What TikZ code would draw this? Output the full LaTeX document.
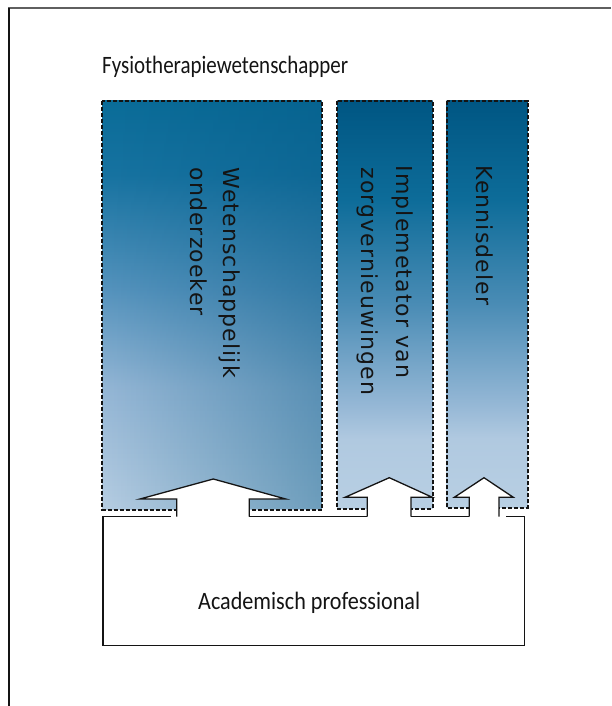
\documentclass[tikz,border=0pt]{standalone}
\usepackage{fontspec}
\usepackage{graphicx}
\usetikzlibrary{fadings}
\newfontfamily\vfont{DejaVu Sans}[LetterSpace=5]
\newfontfamily\tfont{Carlito}
\definecolor{cL}{HTML}{B8CFE3}
\definecolor{cL2}{HTML}{B0C9E0}
\definecolor{cM2}{HTML}{96B8D6}
\definecolor{cM}{HTML}{4A8CB5}
\definecolor{cD2}{HTML}{0D6C99}
\definecolor{cD}{HTML}{005683}
\definecolor{kL}{HTML}{B6CDE2}
\definecolor{kL2}{HTML}{94B6D5}
\definecolor{kM}{HTML}{5593BD}
\definecolor{kD2}{HTML}{1773A1}
\definecolor{kD}{HTML}{0B6D99}
\definecolor{ink}{HTML}{141414}
\definecolor{framegray}{HTML}{5F5F5F}
\pgfdeclareverticalshading{colshade}{100bp}{color(0bp)=(cL); color(25bp)=(cL); color(33.5bp)=(cL2); color(37.5bp)=(cM2); color(50bp)=(cM); color(63bp)=(cD2); color(75bp)=(cD); color(100bp)=(cD)}
\pgfdeclareverticalshading{wideshade}{100bp}{color(0bp)=(kL); color(25bp)=(kL); color(40bp)=(kL2); color(52bp)=(kM); color(66bp)=(kD2); color(75bp)=(kD); color(100bp)=(kD)}
\tikzset{
  colbox/.style={shade, shading=colshade, inner sep=0pt},
  dashborder/.style={draw=ink, line width=2pt, dash pattern=on 4pt off 2pt},
  vtext/.style={rotate=-90, anchor=base west, inner sep=0pt, text=ink, font=\vfont\fontsize{22}{26}\selectfont},
  htext/.style={inner sep=0pt, text=ink, font=\tfont\fontsize{25}{30}\selectfont},
  upar/.style={fill=white, draw=ink, line width=1.3pt, line join=miter},
  outline/.style={draw=ink, line width=1.3pt}
}
\begin{document}
\begin{tikzpicture}[x=1pt, y=-1pt]
\useasboundingbox (0,0) rectangle (611,706);
% frame
\draw[framegray, line width=2pt] (8,8.5) -- (611,8.5);
\draw[ink, line width=2pt] (9,8.5) -- (9,706);
% title
\node[htext, anchor=base west] (title) at (102,74) {\resizebox{246pt}{\height}{Fysiotherapiewetenschapper}};
% coloured boxes
\node[shade, shading=wideshade, inner sep=0pt, minimum width=219pt, minimum height=408.3pt] (b1) at (212,305.15) {};
\fill[cD, opacity=0.4, path fading=west] (b1.north west) rectangle (b1.south east);
\draw[dashborder] (b1.north west) rectangle (b1.south east);
\node[colbox, minimum width=95.2pt, minimum height=407.3pt] (b2) at (384.9,304.65) {};
\draw[dashborder] (b2.north west) rectangle (b2.south east);
\node[colbox, minimum width=80.6pt, minimum height=406.3pt] (b3) at (487,304.15) {};
\draw[dashborder] (b3.north west) rectangle (b3.south east);
% rotated labels
\node[vtext] (t1a) at (223.3,167.5) {Wetenschappelijk};
\node[vtext] (t1b) at (190.7,167.5) {onderzoeker};
\node[vtext] (t2a) at (396,165.5) {Implemetator van};
\node[vtext] (t2b) at (361.7,167.5) {zorgvernieuwingen};
\node[vtext] (t3) at (476.7,165.5) {Kennisdeler};
% arrows
\path[upar] (176.7,516.7) -- (176.7,499) -- (140,499) -- (213.3,479) -- (285.7,499) -- (249.3,499) -- (249.3,516.7);
\path[upar] (367.3,516.7) -- (367.3,497.3) -- (345,497.3) -- (389.3,477.7) -- (432.3,497.3) -- (411,497.3) -- (411,516.7);
\path[upar] (469.3,516.7) -- (469.3,497.3) -- (454.3,497.3) -- (484,477.7) -- (513.3,497.3) -- (499,497.3) -- (499,516.7);
% bottom box
\coordinate (a1) at (103,516.7);
\coordinate (a2) at (524.5,516.7);
\draw[outline] (170.7,516.7) -- (a1) -- (103,645.7) -- (524.5,645.7) -- (a2) -- (506,516.7);
\draw[outline] (249.3,516.7) -- (367.3,516.7);
\draw[outline] (411,516.7) -- (469.3,516.7);
\node[htext, anchor=base] (acad) at (309.2,609) {\resizebox{222pt}{\height}{Academisch professional}};
\end{tikzpicture}
\end{document}
